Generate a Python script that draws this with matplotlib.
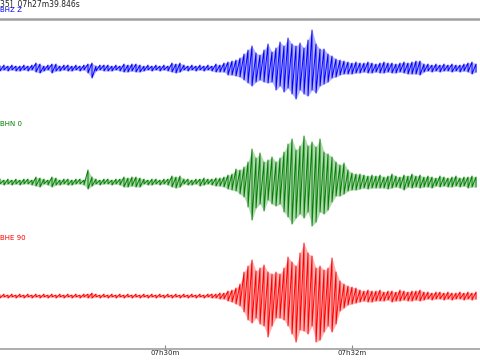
import matplotlib
matplotlib.use("Agg")
import matplotlib.pyplot as plt
import numpy as np

# Min/max per time bin (as a seismogram viewer draws it), bins of DT seconds from T0,
# time in seconds relative to 07h30m00s
T0 = -105.88
DT = 2.567

BHZ_HI = [
    2, 3, 2, 3, 2, 2, 3, 2, 3, 5, 4, 2, 3, 4, 4, 2, 3, 3, 2, 3, 2, 3, 4, 5,
    2, 3, 3, 3, 2, 3, 2, 4, 3, 4, 4, 3, 2, 3, 2, 3, 2, 3, 2, 5, 4, 5,
    3, 2, 3, 2, 3, 2, 3, 2, 4, 3, 5, 6, 7, 8, 10,
    14, 18, 22, 15, 13, 18, 24, 16, 20, 26, 22, 30, 24, 22, 25, 20, 28, 38, 24, 19, 19, 14, 12, 9, 8, 7,
    6, 5, 6, 5, 5, 6, 5, 4, 5, 6, 5, 5, 4, 5, 6, 5, 6, 7, 7,
    4, 4, 3, 4, 3, 4, 3, 4, 3, 3, 4, 5, 6, 4,
]
BHZ_LO = [
    3, 2, 3, 2, 3, 3, 2, 3, 2, 4, 5, 3, 2, 5, 3, 3, 2, 3, 3, 2, 3, 2, 5, 10,
    3, 2, 3, 3, 3, 2, 3, 4, 4, 3, 4, 4, 3, 2, 3, 2, 3, 2, 3, 4, 5, 4,
    2, 3, 2, 3, 2, 3, 2, 3, 4, 4, 4, 7, 7, 8, 9,
    12, 15, 18, 14, 12, 14, 15, 14, 22, 18, 24, 20, 26, 31, 22, 26, 28, 22, 25, 18, 16, 14, 10, 9, 7, 6,
    6, 6, 5, 5, 4, 5, 5, 4, 5, 5, 4, 5, 5, 4, 5, 6, 6, 6, 7,
    4, 3, 4, 3, 4, 3, 3, 4, 3, 4, 3, 4, 6, 4,
]
BHN_HI = [
    3, 2, 3, 2, 3, 2, 3, 3, 2, 5, 4, 3, 2, 5, 4, 2, 3, 3, 2, 3, 3, 2, 12, 5,
    3, 2, 3, 3, 2, 3, 3, 5, 4, 5, 5, 4, 3, 2, 3, 3, 2, 3, 3, 6, 5, 6,
    3, 3, 2, 3, 3, 4, 3, 3, 4, 4, 5, 7, 8, 13, 12,
    15, 20, 33, 24, 29, 20, 22, 25, 20, 24, 30, 38, 43, 32, 36, 46, 36, 40, 35, 43, 30, 28, 25, 20, 17, 19,
    12, 9, 8, 8, 7, 6, 7, 6, 7, 5, 6, 8, 6, 5, 7, 6, 8, 6, 7,
    5, 6, 5, 4, 6, 5, 4, 5, 6, 4, 5, 5, 6, 5,
]
BHN_LO = [
    2, 3, 2, 3, 2, 3, 2, 2, 3, 4, 5, 2, 3, 5, 3, 3, 2, 3, 3, 2, 2, 3, 7, 4,
    2, 3, 2, 2, 3, 2, 3, 5, 5, 4, 5, 5, 2, 3, 3, 2, 3, 2, 3, 5, 6, 5,
    2, 3, 3, 2, 4, 3, 2, 3, 4, 4, 5, 7, 8, 9, 12,
    15, 25, 38, 26, 22, 29, 18, 22, 24, 22, 30, 35, 42, 36, 32, 36, 30, 44, 40, 30, 32, 28, 20, 14, 14, 12,
    9, 8, 8, 7, 6, 7, 6, 6, 6, 6, 7, 6, 5, 6, 8, 5, 6, 5, 6,
    5, 5, 6, 4, 5, 4, 5, 5, 4, 5, 4, 6, 5, 5,
]
BHE_HI = [
    1, 2, 1, 2, 1, 2, 1, 2, 1, 2, 1, 2, 1, 2, 1, 2, 1, 2, 1, 2, 1, 2, 2, 3,
    2, 1, 2, 1, 2, 1, 2, 1, 2, 1, 2, 1, 2, 1, 2, 1, 2, 1, 2, 1, 2, 1,
    2, 1, 2, 1, 2, 1, 2, 2, 2, 3, 3, 5, 6, 8, 12,
    24, 30, 36, 25, 28, 31, 24, 22, 24, 22, 28, 39, 34, 30, 43, 53, 43, 40, 28, 30, 26, 28, 38, 24, 15, 12,
    10, 9, 8, 6, 5, 6, 5, 5, 6, 4, 5, 5, 4, 6, 5, 4, 5, 5, 6,
    4, 4, 3, 4, 4, 3, 4, 3, 3, 4, 3, 4, 3, 4,
]
BHE_LO = [
    2, 1, 2, 1, 2, 1, 2, 1, 2, 1, 2, 1, 2, 1, 2, 1, 2, 1, 2, 1, 2, 1, 2, 2,
    1, 2, 1, 2, 1, 2, 1, 2, 1, 2, 1, 2, 1, 2, 1, 2, 1, 2, 1, 2, 1, 2,
    1, 2, 1, 2, 1, 2, 1, 2, 2, 3, 3, 5, 6, 8, 10,
    16, 24, 27, 22, 28, 30, 41, 30, 22, 22, 24, 30, 38, 46, 34, 35, 38, 30, 46, 44, 36, 30, 36, 28, 15, 12,
    9, 8, 7, 6, 5, 6, 6, 5, 5, 5, 4, 6, 5, 5, 4, 5, 5, 4, 5,
    4, 3, 4, 3, 3, 4, 3, 4, 3, 3, 4, 3, 4, 3,
]

CHANNELS = ["BHZ Z", "BHN 0", "BHE 90"]
HIGHS = [BHZ_HI, BHN_HI, BHE_HI]
LOWS = [BHZ_LO, BHN_LO, BHE_LO]
COLORS = ["#0000ff", "#008000", "#ff0000"]
OFFSETS = [0, -114, -228]

TICK_POS = [0, 120]
TICK_LABELS = ["07h30m", "07h32m"]
HEADER = "35]  07h27m39.846s"

fig = plt.figure(figsize=(4.8, 3.6), dpi=100)
ax = fig.add_axes([0, 11 / 360, 1, 330 / 360])

for name, hi, lo, color, off in zip(CHANNELS, HIGHS, LOWS, COLORS, OFFSETS):
    hi = np.array(hi, dtype=float)
    lo = -np.array(lo, dtype=float)
    t = T0 + DT * np.arange(len(hi))
    # zigzag max -> min -> max ... like an envelope (min/max) plot
    tt = np.repeat(t, 2)
    yy = np.column_stack([hi, lo]).ravel()
    ax.fill_between(t, lo + off, hi + off, color=color, alpha=0.3, linewidth=0)
    ax.plot(tt, yy + off, color=color, linewidth=0.7)
    ax.text(0.0, off + 58, name, color=color, fontsize=5, ha="left", va="center",
            transform=ax.get_yaxis_transform())

ax.set_xlim(-105.88, 202.14)
ax.set_ylim(-281, 49)
ax.set_yticks([])
ax.set_xticks(TICK_POS)
ax.set_xticklabels(TICK_LABELS, fontsize=5, color="#222222")
ax.tick_params(axis="x", direction="in", length=3, width=0.8, color="#888888", pad=1)

for side in ["left", "right"]:
    ax.spines[side].set_visible(False)
ax.spines["top"].set_color("#a0a0a0")
ax.spines["top"].set_linewidth(1.8)
ax.spines["bottom"].set_color("#a0a0a0")
ax.spines["bottom"].set_linewidth(1.2)

fig.text(0.0, 1 - 4 / 360, HEADER, fontsize=5.5, color="#222222", ha="left", va="center")

fig.savefig("out.png", dpi=100)
